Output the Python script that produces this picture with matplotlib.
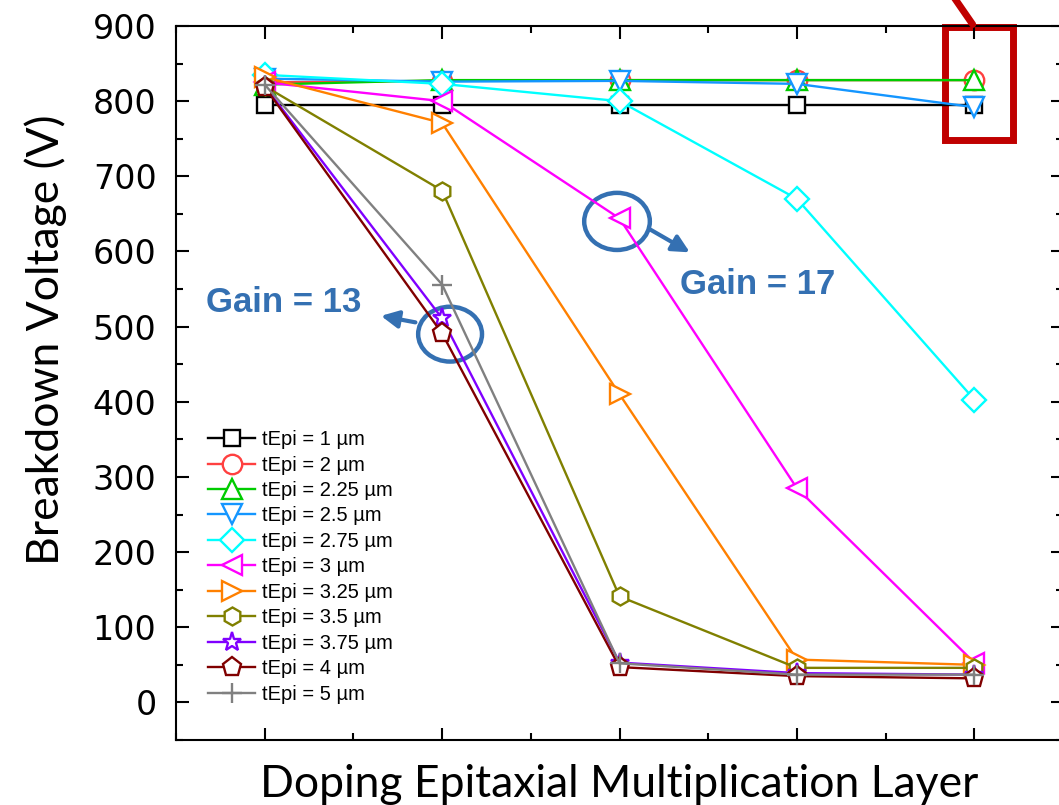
import matplotlib.pyplot as plt
from matplotlib.patches import Ellipse, Rectangle
from matplotlib.ticker import MultipleLocator

layers = [1, 2, 3, 4, 5]

labels = ["tEpi = 1 µm", "tEpi = 2 µm", "tEpi = 2.25 µm", "tEpi = 2.5 µm",
          "tEpi = 2.75 µm", "tEpi = 3 µm", "tEpi = 3.25 µm", "tEpi = 3.5 µm",
          "tEpi = 3.75 µm", "tEpi = 4 µm", "tEpi = 5 µm"]

bv_1 = [795, 795, 795, 795, 795]
bv_2 = [825, 827, 828, 828, 828]
bv_225 = [822, 828, 828, 828, 828]
bv_25 = [830, 826, 827, 823, 792]
bv_275 = [835, 823, 800, 670, 403]
bv_3 = [825, 800, 644, 285, 53]
bv_325 = [832, 771, 410, 57, 50]
bv_35 = [820, 681, 141, 46, 46]
bv_375 = [820, 511, 53, 39, 37]
bv_4 = [819, 491, 47, 35, 32]
bv_5 = [822, 556, 52, 37, 37]

series = [bv_1, bv_2, bv_225, bv_25, bv_275, bv_3, bv_325, bv_35, bv_375, bv_4, bv_5]
colors = ["black", "#ff4040", "#00cc00", "#1496ff", "cyan", "magenta",
          "#ff8000", "#808000", "#8000ff", "#800000", "gray"]
markers = ["s", "o", "^", "v", "D", "<", ">", "h", "*", "p", "+"]
sizes = [11, 14, 14, 14, 12, 14, 14, 13, 14, 14, 14]

fig = plt.figure(figsize=(10.59, 8.05), dpi=100)
ax = fig.add_axes([176 / 1059, 1 - 740 / 805, 887 / 1059, 714 / 805])

for vals, lab, c, m, ms in zip(series, labels, colors, markers, sizes):
    ax.plot(layers, vals, color=c, marker=m, markersize=ms, markerfacecolor="white",
            markeredgecolor=c, markeredgewidth=1.7, linewidth=1.7, label=lab)

ax.set_xlim(0.5, 5.5)
ax.set_ylim(-50, 900)
ax.xaxis.set_major_locator(MultipleLocator(1))
ax.xaxis.set_minor_locator(MultipleLocator(0.5))
ax.yaxis.set_major_locator(MultipleLocator(100))
ax.yaxis.set_minor_locator(MultipleLocator(50))
ax.tick_params(which="both", direction="in", top=True, right=True, width=1.5)
ax.tick_params(which="major", length=9)
ax.tick_params(which="minor", length=5)
ax.tick_params(axis="y", labelsize=24, pad=14)
ax.set_xticklabels([])
for s in ax.spines.values():
    s.set_linewidth(1.5)

ax.set_ylabel("Breakdown Voltage (V)", fontsize=32, family="Lato")
ax.yaxis.set_label_coords(-0.123, 0.56)
ax.set_xlabel("Doping Epitaxial Multiplication Layer", fontsize=32, family="Lato", labelpad=14)

ax.legend(loc="upper left", bbox_to_anchor=(0.036, 0.434), frameon=False,
          prop={"family": "Liberation Sans", "size": 14.5}, handlelength=2.35,
          labelspacing=0.32, borderaxespad=0, borderpad=0, handletextpad=0.35)

blue = "#3470b2"
# annotation circles and arrows
ax.add_patch(Ellipse((2.045, 490), 0.36, 73, fill=False, edgecolor=blue, linewidth=3.2))
ax.add_patch(Ellipse((2.986, 640), 0.37, 76, fill=False, edgecolor=blue, linewidth=3.2))
ax.annotate("", xy=(1.64, 515), xytext=(1.865, 505),
            arrowprops=dict(arrowstyle="-|>", color=blue, lw=3, mutation_scale=26))
ax.annotate("", xy=(3.41, 597), xytext=(3.16, 631),
            arrowprops=dict(arrowstyle="-|>", color=blue, lw=3, mutation_scale=26))
ax.text(1.109, 532, "Gain = 13", color=blue, fontsize=25, fontweight="bold",
        family="Liberation Sans", ha="center", va="center")
ax.text(3.78, 556, "Gain = 17", color=blue, fontsize=25, fontweight="bold",
        family="Liberation Sans", ha="center", va="center")

# red highlight box around last column
ax.add_patch(Rectangle((4.835, 748), 0.383, 151, fill=False, edgecolor="#c00000",
                       linewidth=5, clip_on=False))
ax.annotate("", xy=(5.0, 899), xytext=(4.88, 940),
            arrowprops=dict(arrowstyle="-", color="#c00000", lw=5),
            annotation_clip=False)

fig.savefig("out.png", dpi=100)
